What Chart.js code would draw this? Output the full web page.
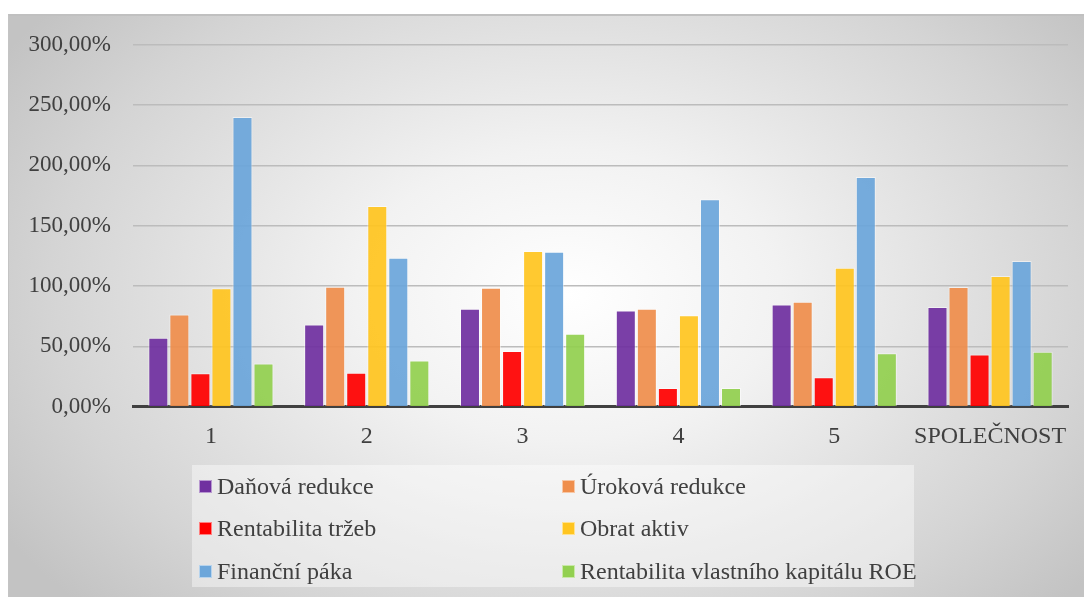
<!DOCTYPE html>
<html>
<head>
<meta charset="utf-8">
<script src="https://cdn.jsdelivr.net/npm/chart.js@4.4.1/dist/chart.umd.min.js"></script>
<style>
  body { margin: 0; background: #fff; }
  #frame {
    position: absolute; left: 8px; top: 14px; width: 1076px; height: 583px;
    border-left: 1px solid #c4c4c4; border-top: 2px solid #c0c0c0; box-sizing: border-box;
    background: radial-gradient(ellipse 62% 78% at 52% 48%, #ffffff 0%, #f2f2f2 32%, #d4d4d4 78%, #c3c3c3 100%);
    overflow: hidden;
  }
  #chart { position: absolute; left: -1px; top: -7px; }
  #legend {
    position: absolute; left: 183px; top: 449px; width: 722px; height: 122px;
    background: rgba(255,255,255,0.42);
    font-family: "Liberation Serif", "Times New Roman", serif; font-size: 24px; color: #404040;
  }
  .item { position: absolute; display: flex; align-items: center; white-space: nowrap; }
  .box { width: 13px; height: 13px; margin-right: 5px; flex: none; box-sizing: border-box; border: 1px solid rgba(255,255,255,0.5); }
</style>
</head>
<body>
<div id="frame">
  <canvas id="chart" width="1076" height="590"></canvas>
  <div id="legend"></div>
</div>
<script>
const categories = ["1", "2", "3", "4", "5", "SPOLEČNOST"];
const seriesNames = ["Daňová redukce", "Úroková redukce", "Rentabilita tržeb", "Obrat aktiv", "Finanční páka", "Rentabilita vlastního kapitálu ROE"];
const danovaRedukce = [57.1, 68.2, 81.2, 79.8, 84.8, 82.6];
const urokovaRedukce = [76.5, 99.4, 98.6, 81.2, 87.0, 99.2];
const rentabilitaTrzeb = [27.8, 28.1, 46.1, 15.6, 24.5, 43.3];
const obratAktiv = [98.1, 166.4, 129.0, 75.9, 115.2, 108.3];
const financniPaka = [240.2, 123.5, 128.5, 171.9, 190.5, 120.7];
const roe = [35.9, 38.3, 60.4, 15.4, 44.4, 45.5];
const colors = ["#7030A0", "#EF8E4C", "#FF0000", "#FFC520", "#6CA6DA", "#92D050"];

const allValues = [danovaRedukce, urokovaRedukce, rentabilitaTrzeb, obratAktiv, financniPaka, roe];

function alpha(hex, a) {
  const n = parseInt(hex.slice(1), 16);
  return "rgba(" + (n >> 16) + "," + ((n >> 8) & 255) + "," + (n & 255) + "," + a + ")";
}

const datasets = seriesNames.map(function (name, i) {
  return {
    label: name,
    data: allValues[i],
    backgroundColor: alpha(colors[i], 0.93),
    borderColor: "rgba(255,255,255,0.5)",
    borderWidth: 1,
    barPercentage: 0.95,
    categoryPercentage: 0.81
  };
});

const font = "'Liberation Serif', 'Times New Roman', serif";

const chart = new Chart(document.getElementById("chart"), {
  type: "bar",
  data: { labels: categories, datasets: datasets },
  options: {
    responsive: false,
    animation: false,
    layout: { padding: { top: 3, left: 18, right: 16, bottom: 131.5 } },
    plugins: { legend: { display: false }, tooltip: { enabled: false } },
    scales: {
      x: {
        grid: { display: false, drawTicks: false },
        border: { color: "#404040", width: 3 },
        ticks: { color: "#404040", font: { family: font, size: 24 }, padding: 16, maxRotation: 0, minRotation: 0, autoSkip: false }
      },
      y: {
        min: 0, max: 300,
        afterFit: function (scale) { scale.width = 107; },
        grid: { color: "#bcbcbc", lineWidth: 1.5, drawTicks: false },
        border: { display: false },
        ticks: {
          stepSize: 50, color: "#404040", padding: 22,
          font: { family: font, size: 23 },
          callback: function (v) { return v.toFixed(2).replace(".", ",") + "%"; }
        }
      }
    }
  }
});

// legend in two columns, built from the chart's datasets
const legend = document.getElementById("legend");
const rowsY = [21, 63.5, 106];
chart.data.datasets.forEach(function (ds, i) {
  const item = document.createElement("div");
  item.className = "item";
  item.style.left = (i % 2 === 0 ? 7 : 370) + "px";
  item.style.top = (rowsY[Math.floor(i / 2)] - 14) + "px";
  item.style.height = "28px";
  const box = document.createElement("span");
  box.className = "box";
  box.style.background = colors[i];
  const txt = document.createElement("span");
  txt.textContent = ds.label;
  item.appendChild(box);
  item.appendChild(txt);
  legend.appendChild(item);
});
</script>
</body>
</html>
